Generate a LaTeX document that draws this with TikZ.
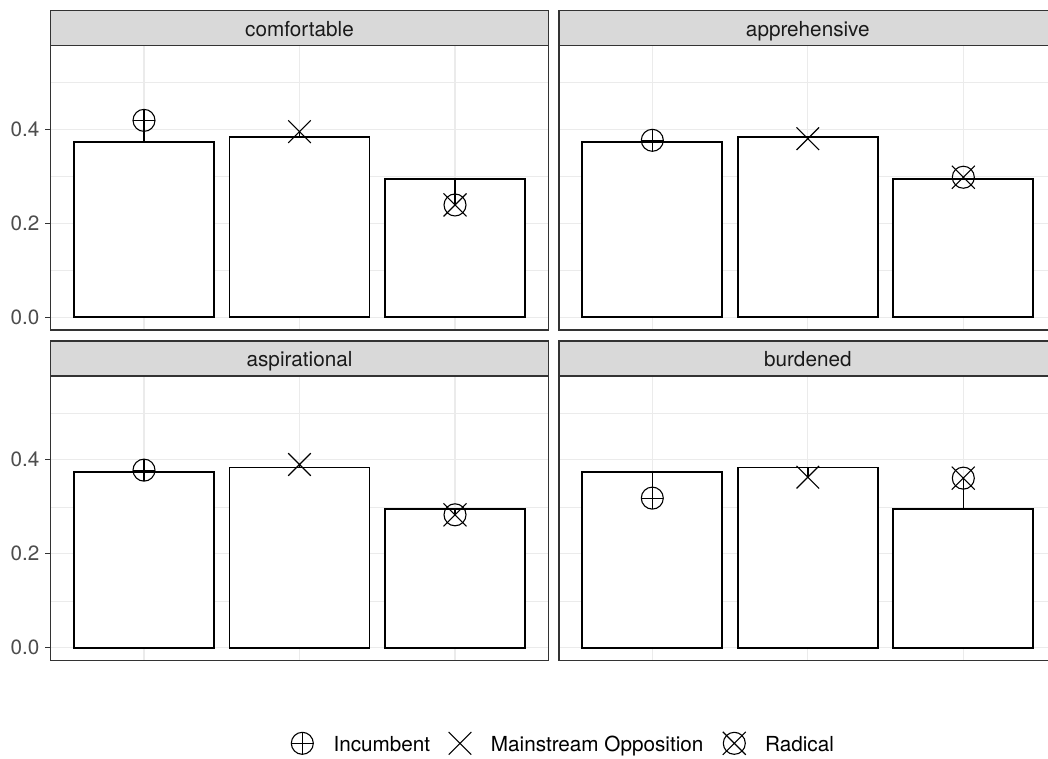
\documentclass[tikz,border=0pt]{standalone}
\usepackage{fontspec}
\setmainfont{TeX Gyre Heros}
\definecolor{gridc}{HTML}{EBEBEB}
\definecolor{gtwenty}{HTML}{333333}
\definecolor{gthirty}{HTML}{4D4D4D}
\definecolor{geightyfive}{HTML}{D9D9D9}
\definecolor{gten}{HTML}{1A1A1A}
\newcommand{\ftx}{\fontsize{20.7}{24}\selectfont}
% markers
\newcommand{\mkinc}[2]{\draw[mk] (#1,#2) circle[radius=11pt];
  \draw[mk] ({#1-11},#2) -- ({#1+11},#2) (#1,{#2-11}) -- (#1,{#2+11});}
\newcommand{\mkmain}[2]{\draw[mk] ({#1-11.3},{#2-11.3}) -- ({#1+11.3},{#2+11.3}) ({#1-11.3},{#2+11.3}) -- ({#1+11.3},{#2-11.3});}
\newcommand{\mkrad}[2]{\draw[mk] (#1,#2) circle[radius=11pt];
  \draw[mk] ({#1-11.5},{#2-11.5}) -- ({#1+11.5},{#2+11.5}) ({#1-11.5},{#2+11.5}) -- ({#1+11.5},{#2-11.5});}
% one bar with its point
\newcommand{\fbar}[4]{%
  \pgfmathsetmacro{\cx}{\xa+(#1-0.4)*155.5}%
  \pgfmathsetmacro{\by}{\yz-470*#2}%
  \pgfmathsetmacro{\py}{\yz-470*#3}%
  \draw[bar] ({\cx-70},\yz) rectangle ({\cx+70},\by);
  \draw[seg] (\cx,\by) -- (\cx,\py);
  #4{\cx}{\py}%
}
% one facet panel: #1 x0, #2 strip top, #3 label, #4 name, #5 #6 #7 point values
\newcommand{\fpanel}[7]{%
  \pgfmathsetmacro{\xa}{#1}%
  \pgfmathsetmacro{\xb}{#1+497.6}%
  \pgfmathsetmacro{\st}{#2}%
  \pgfmathsetmacro{\sb}{#2+35.4}%
  \pgfmathsetmacro{\pb}{#2+319.7}%
  \pgfmathsetmacro{\yz}{#2+307}%
  \foreach \v in {0.1,0.3,0.5} {\draw[minorg] (\xa,{\yz-470*\v}) -- (\xb,{\yz-470*\v});}
  \foreach \v in {0,0.2,0.4} {\draw[majorg] (\xa,{\yz-470*\v}) -- (\xb,{\yz-470*\v});}
  \foreach \k in {1,2,3} {\draw[majorg] ({\xa+(\k-0.4)*155.5},\sb) -- ({\xa+(\k-0.4)*155.5},\pb);}
  \fbar{1}{0.3735}{#5}{\mkinc}
  \fbar{2}{0.3835}{#6}{\mkmain}
  \fbar{3}{0.295}{#7}{\mkrad}
  \draw[border] (\xa,\sb) rectangle (\xb,\pb);
  \draw[stripbox] (\xa,\st) rectangle (\xb,\sb);
  \node[striptxt] (#4) at ({(\xa+\xb)/2},{\st+25.7}) {#3};
}
% y axis of a left-hand panel: #1 x0, #2 strip top, #3 name
\newcommand{\faxis}[3]{%
  \pgfmathsetmacro{\xa}{#1}%
  \pgfmathsetmacro{\yz}{#2+307}%
  \foreach \v/\t/\n in {0/0.0/a,0.2/0.2/b,0.4/0.4/c} {%
    \draw[tick] ({\xa-5.5},{\yz-470*\v}) -- (\xa,{\yz-470*\v});
    \node[axtxt] (#3-\n) at (39.5,{\yz-470*\v}) {\t};
  }
}
\begin{document}
\begin{tikzpicture}[x=1pt,y=-1pt,
  majorg/.style={draw=gridc,line width=1.1pt},
  minorg/.style={draw=gridc,line width=0.55pt},
  bar/.style={draw=black,fill=white,line width=1.7pt},
  seg/.style={draw=black,line width=1.6pt},
  mk/.style={draw=black,line width=1.1pt},
  border/.style={draw=gtwenty,line width=1.5pt},
  tick/.style={draw=gtwenty,line width=1.1pt},
  stripbox/.style={fill=geightyfive,draw=gtwenty,line width=1.5pt},
  striptxt/.style={text=gten,font=\ftx,inner sep=0pt,anchor=base},
  axtxt/.style={text=gthirty,font=\ftx,inner sep=0pt,anchor=east},
  legtxt/.style={text=black,font=\ftx,inner sep=0pt,anchor=base west}]
\useasboundingbox (0,0) rectangle (1048,758);
\fill[white] (0,0) rectangle (1048,758);
\clip (0,0) rectangle (1048,758);
\fpanel{50.7}{10.3}{comfortable}{comf}{0.419}{0.395}{0.239}
\fpanel{559}{10.3}{apprehensive}{appr}{0.3766}{0.380}{0.298}
\fpanel{50.7}{340.8}{aspirational}{aspi}{0.378}{0.390}{0.283}
\fpanel{559}{340.8}{burdened}{burd}{0.3185}{0.363}{0.361}
\faxis{50.7}{10.3}{ytop}
\faxis{50.7}{340.8}{ybot}
% legend
\mkinc{302.3}{743.3}
\node[legtxt] (leginc) at (333.3,751.3) {Incumbent};
\mkmain{460}{743.3}
\node[legtxt] (legmain) at (490.7,751.3) {Mainstream Opposition};
\mkrad{734.3}{743.3}
\node[legtxt] (legrad) at (765,751.3) {Radical};
\end{tikzpicture}
\end{document}
